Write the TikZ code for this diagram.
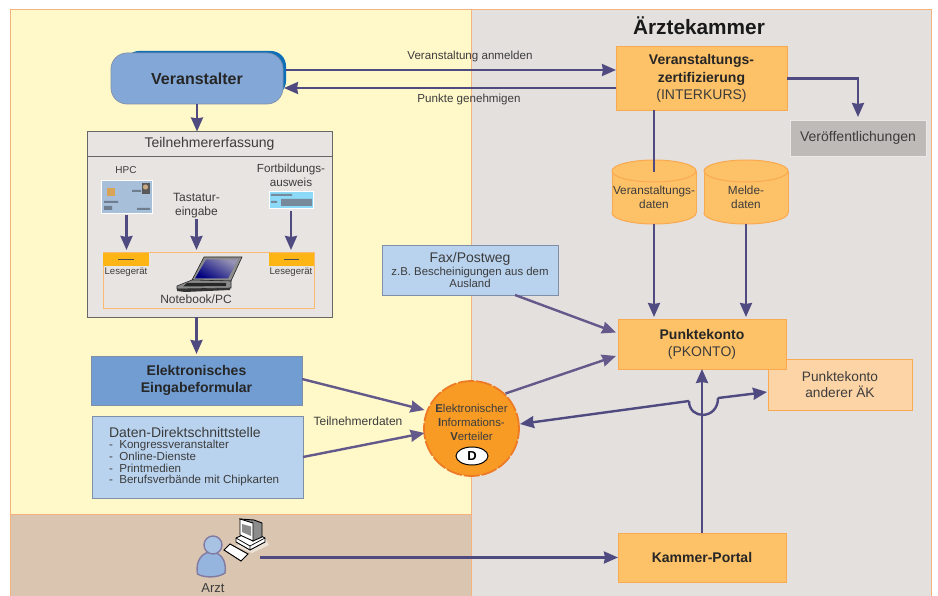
\documentclass[tikz,border=0pt]{standalone}
\usepackage{fontspec}
\setmainfont{Liberation Sans}
\usetikzlibrary{shapes.geometric,arrows.meta,calc}
\definecolor{panelY}{HTML}{FFF8C9}
\definecolor{panelT}{HTML}{D9C5B0}
\definecolor{panelG}{HTML}{E4E0DE}
\definecolor{edgeO}{HTML}{F5B27C}
\definecolor{fillO}{HTML}{FDC167}
\definecolor{edgeB}{HTML}{F9A94F}
\definecolor{blueA}{HTML}{83A8D8}
\definecolor{blueB}{HTML}{0E6FB8}
\definecolor{blueC}{HTML}{719DD2}
\definecolor{blueL}{HTML}{B9D3EF}
\definecolor{frameG}{HTML}{7F8FA8}
\definecolor{peach}{HTML}{FCD4A6}
\definecolor{greyB}{HTML}{BEBAB7}
\definecolor{boxG}{HTML}{E8E4E2}
\definecolor{circF}{HTML}{F79B25}
\definecolor{circE}{HTML}{EE7A26}
\definecolor{arrowC}{HTML}{4F4A80}
\definecolor{arrowL}{HTML}{63598A}
\definecolor{txtC}{HTML}{3C3C3C}
\definecolor{readerO}{HTML}{FDB515}
\newcommand{\fs}[1]{\fontsize{#1}{#1}\selectfont}
\tikzset{
  x=1pt,y=-1pt,
  every node/.style={inner sep=0pt,outer sep=0pt,align=center,text=txtC},
  panel/.style={draw=edgeO,line width=1pt},
  obox/.style={draw=edgeB,fill=fillO,line width=1pt,minimum width=#1},
  arr/.style={draw=arrowC,line width=2.4pt,-{Stealth[length=14pt,width=12pt,inset=1pt]}},
  arrl/.style={draw=arrowL,line width=2.4pt,-{Stealth[length=14pt,width=12pt,inset=1pt]}},
  plain/.style={draw=arrowC,line width=2.4pt},
  cylend/.style={ellipse,draw=edgeB,fill=fillO,line width=1pt,minimum width=84pt,minimum height=22pt},
  cylbody/.style={fill=fillO,minimum width=84pt,minimum height=42pt},
  cylside/.style={draw=edgeB,line width=1pt},
  boldt/.style={text=black!85}
}
\begin{document}
\begin{tikzpicture}
\useasboundingbox (0,0) rectangle (938,596);
\fill[white] (0,0) rectangle (938,596);
% panels
\filldraw[panel,fill=panelY] (10,10) rectangle (471,514);
\filldraw[panel,fill=panelT] (10,514) rectangle (471,600);
\filldraw[panel,fill=panelG] (471,10) rectangle (931,600);
\node[font=\bfseries\fs{20.8},text=black!90] (title) at (699,25.5) {Ärztekammer};
% Veranstalter
\fill[blueB,rounded corners=15pt] (124,51) rectangle (286,96);
\node[draw=frameG,fill=blueA,line width=.7pt,rounded corners=16pt,minimum width=172pt,minimum height=51pt,font=\bfseries\fs{16},boldt] (va) at (197,78.5) {Veranstalter};
% Teilnehmererfassung
\node[draw=black!60,fill=boxG,line width=.8pt,minimum width=245pt,minimum height=186pt] (te) at (209.5,224.5) {};
\node[draw=black!60,fill=boxG,line width=.8pt,minimum width=245pt,minimum height=25pt,font=\fs{14}] (teh) at (209.5,144) {Teilnehmererfassung};
\node[font=\fs{10}] (hpc) at (126,170) {HPC};
\node[font=\fs{11.7}] (fa) at (291,175.5) {Fortbildungs-\\[2.5pt]ausweis};
\node[font=\fs{12}] (tast) at (196.5,205.5) {Tastatur-\\[2.5pt]eingabe};
% HPC card
\node[fill=blueL!70!frameG,draw=white,line width=.6pt,minimum width=51pt,minimum height=33pt] (hc) at (126.5,196.5) {};
\fill[fill=black!15!fillO] (107,188) rectangle (115,196);
\fill[black!65] (141.5,183) rectangle (150,194);
\fill[black!20!peach] (145.5,187) circle (2.6pt);
\fill[black!40!blueL] (104,201) rectangle (118,203) (104,206) rectangle (112,210) (137,208) rectangle (150,210) (132,190) rectangle (141,192);
% Fortbildungsausweis card
\node[fill=cyan!45!white,draw=white,line width=.6pt,minimum width=44pt,minimum height=17pt] (fc) at (291,199.5) {};
\fill[black!35!blueL] (281,199) rectangle (312,206) (271,194) rectangle (292,196) (271,201) rectangle (277,203);
% Notebook frame
\node[draw=edgeB!80,line width=1pt,minimum width=211pt,minimum height=56pt] (nbf) at (208.5,281) {};
\node[fill=readerO,minimum width=46pt,minimum height=13pt] (l1) at (126,259.5) {};
\node[fill=readerO,minimum width=45pt,minimum height=13pt] (l2) at (291.5,259.5) {};
\draw[black!70,line width=.8pt] (118,259.5) -- (134,259.5) (284,259.5) -- (299,259.5);
\node[font=\fs{9.6}] (ll1) at (126,272) {Lesegerät};
\node[font=\fs{9.6}] (ll2) at (291,272) {Lesegerät};
% laptop
\filldraw[draw=black!85,fill=black!45,line width=.6pt] (192,280) -- (204,257) -- (242,257) -- (231,281) -- cycle;
\shade[top color=arrowC!60!white,bottom color=blue!50!black,shading angle=-30] (195,278.5) -- (206,259.5) -- (238,259.5) -- (228,278.5) -- cycle;
\filldraw[draw=black!85,fill=black!45,line width=.6pt] (192,280) -- (231,281) -- (231,288) -- (177,289) -- (177,286) -- cycle;
\fill[black!85] (187,283) -- (226,283) -- (226,286) -- (183,286.5) -- cycle;
\fill[black!80] (177,289) -- (230,288) -- (230,290) -- (185,292) -- (177,291) -- cycle;
\node[font=\fs{12}] (nb) at (196,299.5) {Notebook/PC};
% other boxes
\node[draw=frameG,fill=blueC,line width=.8pt,minimum width=211pt,minimum height=49pt,font=\bfseries\fs{14},boldt] (ee) at (196.5,380.5) {Elektronisches\\[2.5pt]Eingabeformular};
\node[draw=frameG,fill=blueL,line width=.8pt,minimum width=211pt,minimum height=82pt] (dd) at (197.5,457) {};
\node[anchor=north west,align=left,font=\fs{11.6}] (ddt) at (109,427) {{\fs{14}Daten-Direktschnittstelle}\\[-.2pt]-\ \ Kongressveranstalter\\[.2pt]-\ \ Online-Dienste\\[.2pt]-\ \ Printmedien\\[.2pt]-\ \ Berufsverbände mit Chipkarten};
\node[draw=frameG,fill=blueL,line width=.8pt,minimum width=176pt,minimum height=50pt,font=\fs{11.4}] (fax) at (470,270) {{\fs{14}Fax/Postweg}\\[1pt]z.B. Bescheinigungen aus dem\\[1pt]Ausland};
% right side
\node[obox=171pt,minimum height=64pt,font=\fs{14}] (zt) at (701.5,78.5) {\textcolor{black!85}{\textbf{Veranstaltungs-}}\\[3.5pt]\textcolor{black!85}{\textbf{zertifizierung}}\\[3.5pt](INTERKURS)};
\node[draw=white!70!greyB,fill=greyB,line width=.8pt,minimum width=136pt,minimum height=36pt,font=\fs{14}] (vo) at (858,138) {Veröffentlichungen};
% cylinders
\node[cylend] (c1b) at (654,213) {};
\node[cylend] (c2b) at (746,213) {};
\node[cylbody] (c1) at (654,192) {};
\node[cylbody] (c2) at (746,192) {};
\draw[cylside] (c1.north west) -- (c1.south west) (c1.north east) -- (c1.south east) (c2.north west) -- (c2.south west) (c2.north east) -- (c2.south east);
\node[cylend] (c1a) at (654,171) {};
\node[cylend] (c2a) at (746,171) {};
\node[font=\fs{11.8}] (c1t) at (654,197) {Veranstaltungs-\\[2pt]daten};
\node[font=\fs{11.8}] (c2t) at (746,197) {Melde-\\[2pt]daten};
\node[draw=edgeB,fill=peach,line width=1pt,minimum width=144pt,minimum height=50pt,font=\fs{13.7}] (ak) at (840,385) {Punktekonto\\[2.5pt]anderer ÄK};
\node[obox=168pt,minimum height=49pt,font=\fs{14}] (pk) at (702,344.5) {\textcolor{black!85}{\textbf{Punktekonto}}\\[3pt](PKONTO)};
\node[obox=168pt,minimum height=49pt,font=\bfseries\fs{14},boldt] (kp) at (702,557.5) {Kammer-Portal};
% EIV circle
\node[circle,draw=circE,fill=circF,line width=1.8pt,dash pattern=on 16pt off 2pt,minimum size=95pt] (eiv) at (471.5,428.5) {};
\node[font=\fs{11.4}] (eivt) at (471.5,422.5) {\textbf{E}lektronischer\\[3pt]\textbf{I}nformations-\\[3pt]\textbf{V}erteiler};
\node[ellipse,draw=black,fill=white,line width=1pt,minimum width=32pt,minimum height=18pt,font=\bfseries\fs{13},text=black] (d) at (472,456) {D};
% Arzt: person
\filldraw[draw=arrowL!80,line width=1.4pt,fill=blueA!85!white] (197.5,574) .. controls (195,560) and (203,552) .. (211,552) .. controls (220,552) and (227,560) .. (225,573) .. controls (218,578) and (204,578) .. (197.5,574) -- cycle;
\filldraw[draw=arrowL!80,line width=1.4pt,fill=blueA!70!white] (213,545) circle (9pt);
% computer
\fill[white!50!panelT] (235,546) -- (264,536) -- (269,545) -- (252,553) -- cycle;
\filldraw[draw=black,line width=.9pt,fill=white] (236,538) -- (247,533) -- (256,533) -- (265,538) -- (265,542) -- (250,550) -- (236,542) -- cycle;
\draw[black,line width=.7pt] (236,538) -- (250,546) -- (265,538) (250,546) -- (250,550);
\filldraw[draw=black,line width=.9pt,fill=black!45] (240,519) -- (254,520) -- (262,523) -- (262,537) -- (253,541) -- cycle;
\filldraw[draw=black,line width=.9pt,fill=white] (240,519) -- (253,523) -- (253,541) -- (240,535) -- cycle;
\fill[black!45] (242,524) -- (251,526.5) -- (251,536) -- (242,532) -- cycle;
\filldraw[draw=black,line width=1pt,fill=white] (224,550) -- (230,544) -- (248,554) -- (241,561) -- cycle;
\node[font=\fs{13}] (arzt) at (213,588) {Arzt};
\coordinate (pc) at (260,557.5);
% labels
\node[font=\fs{11.6}] (l1t) at (470,57) {Veranstaltung anmelden};
\node[font=\fs{11.6}] (l2t) at (469,100) {Punkte genehmigen};
\node[font=\fs{12}] (l3t) at (358,421) {Teilnehmerdaten};
% connectors
\draw[arr] ($(va.east)+(3,-8.5)$) -- ($(zt.west)+(0,-8.5)$);
\draw[arr] ($(zt.west)+(0,9.5)$) -- ($(va.east)+(1,9.5)$);
\draw[arr,shorten >=3pt] (zt.east) -| (vo.north);
\draw[plain] (zt.south -| c1) -- ($(c1)+(0,-20)$);
\draw[arr,shorten >=3pt] ($(c1)+(0,32)$) -- (c1 |- pk.north);
\draw[arr,shorten >=3pt] ($(c2)+(0,32)$) -- (c2 |- pk.north);
\draw[arr] (va.south) -- (va.south |- teh.north);
\draw[arr,shorten <=2pt,shorten >=3pt] (hc.south) -- (hc.south |- nbf.north);
\draw[arr,shorten <=1pt,shorten >=3pt] (tast.south) -- (tast.south |- nbf.north);
\draw[arr,shorten <=3pt,shorten >=3pt] (fc.south) -- (fc.south |- nbf.north);
\draw[arr,shorten >=2pt] (ee.north |- te.south) -- (ee.north);
\draw[arrl] ($(fax.south)+(45,0)$) -- ($(pk.west)+(-2,-12)$);
\draw[arrl] ($(ee.east)+(0,-1.5)$) -- ($(eiv)+(-47,-18.5)$);
\draw[arrl] (dd.east) -- ($(eiv)+(-47,4.5)$);
\draw[arrl] ($(eiv)+(34,-35)$) -- ($(pk.west)+(-2,11.5)$);
\coordinate (jl) at (689,401);
\coordinate (jr) at (718,398);
\draw[arr] (kp.north) -- (pk.south);
\draw[arr] (jl) -- ($(eiv)+(48.5,-4.5)$);
\draw[plain] (jl) .. controls (689,420) and (718,420) .. (jr);
\draw[arr] (jr) -- ($(ak.west)+(-1,7)$);
\draw[arr] (pc) -- (kp.west);
\end{tikzpicture}
\end{document}
